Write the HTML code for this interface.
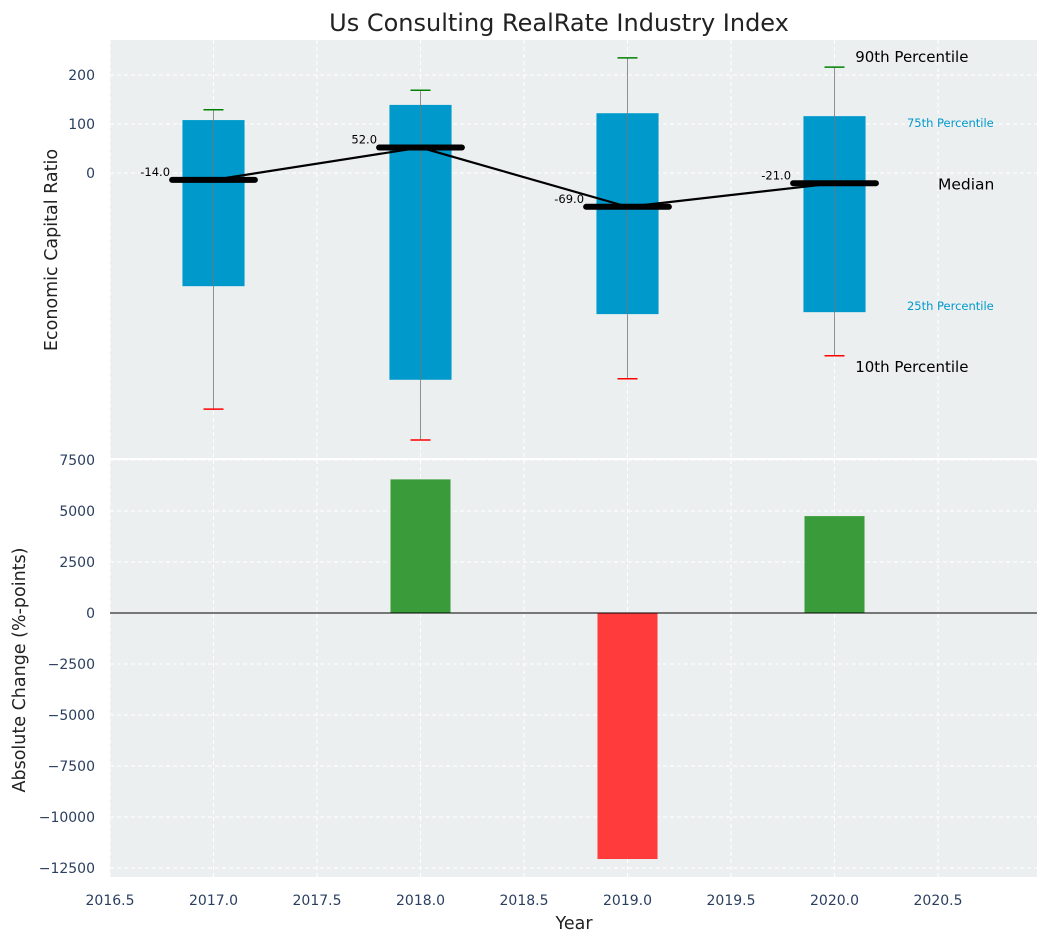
<!DOCTYPE html>
<html><head><meta charset="utf-8"><style>
body{margin:0;background:#fff;}
svg text{font-family:"DejaVu Sans","Liberation Sans",sans-serif;}
</style></head><body>
<svg id="chart" width="1048" height="942" xmlns="http://www.w3.org/2000/svg"></svg>
<script>
const years = [2017, 2018, 2019, 2020];
const p10 = [-482, -545, -420, -373];
const p25 = [-231, -422, -288, -284];
const medians = [-14, 52, -69, -21];
const p75 = [108, 139, 122, 116];
const p90 = [129, 169, 235, 216];
const changes = [0, 6550, -12060, 4750];
const xTicks = [2016.5, 2017.0, 2017.5, 2018.0, 2018.5, 2019.0, 2019.5, 2020.0, 2020.5];
const topTicks = [200, 100, 0];
const botTicks = [7500, 5000, 2500, 0, -2500, -5000, -7500, -10000, -12500];

const NS = "http://www.w3.org/2000/svg";
const svg = document.getElementById('chart');
function el(tag, attrs, parent){const e=document.createElementNS(NS,tag);for(const k in attrs)e.setAttribute(k,attrs[k]);(parent||svg).appendChild(e);return e;}
const fmt = v => String(v).replace('-','\u2212');
const L=110,R=1037;
const x = v => L + (v-2016.5)*207;
const yT = v => 173 - v*0.49;
const yB = v => 613 - v*0.0204;
const T1=40,B1=458,T2=460,B2=877;

let r=el('rect',{x:L,y:T1,width:R-L,height:B1-T1,fill:'#eceff0'});


r=el('rect',{x:L,y:T2,width:R-L,height:B2-T2,fill:'#eceff0'});



xTicks.forEach(t=>{
  [[T1,B1],[T2,B2]].forEach(([a,b])=>{const g=el('line',{x1:x(t),x2:x(t),y1:a,y2:b,stroke:'#fff','stroke-dasharray':'4,3','stroke-width':1});
  });
});
topTicks.forEach(t=>{const g=el('line',{x1:L,x2:R,y1:yT(t),y2:yT(t),stroke:'#fff','stroke-dasharray':'4,3'});
  
  const tx=el('text',{x:L-15,y:yT(t)+5,'text-anchor':'end','font-size':14,fill:'#2a3f5f'});tx.textContent=fmt(t);
  });
botTicks.forEach(t=>{const g=el('line',{x1:L,x2:R,y1:yB(t),y2:yB(t),stroke:'#fff','stroke-dasharray':'4,3'});
  
  const tx=el('text',{x:L-15,y:yB(t)+5,'text-anchor':'end','font-size':14,fill:'#2a3f5f'});tx.textContent=fmt(t);
  });
xTicks.forEach(t=>{const tx=el('text',{x:x(t),y:905,'text-anchor':'middle','font-size':14,fill:'#2a3f5f'});tx.textContent=t.toFixed(1);
  });

years.forEach((yr,i)=>{
  const b=el('rect',{x:x(yr-0.15),y:yT(p75[i]),width:0.3*207,height:yT(p25[i])-yT(p75[i]),fill:'#0099cc'});
  
  const w=el('line',{x1:x(yr),x2:x(yr),y1:yT(p90[i]),y2:yT(p10[i]),stroke:'#777','stroke-width':1,opacity:0.8});
  
  const c1=el('line',{x1:x(yr)-10,x2:x(yr)+10,y1:yT(p90[i]),y2:yT(p90[i]),stroke:'green','stroke-width':1.5});
  
  const c2=el('line',{x1:x(yr)-10,x2:x(yr)+10,y1:yT(p10[i]),y2:yT(p10[i]),stroke:'red','stroke-width':1.5});
  
  const m=el('line',{x1:x(yr-0.2),x2:x(yr+0.2),y1:yT(medians[i]),y2:yT(medians[i]),stroke:'#000','stroke-width':6,'stroke-linecap':'round'});
  
  const t=el('text',{x:x(yr-0.21),y:yT(medians[i])-4,'text-anchor':'end','font-size':11.5,fill:'#000'});t.textContent=medians[i].toFixed(1);
  
});
const pl=el('polyline',{points:years.map((yr,i)=>x(yr)+','+yT(medians[i])).join(' '),fill:'none',stroke:'#000','stroke-width':2.2});


const li=years.length-1, ly=years[li];
[['90th Percentile',x(ly+0.1),yT(p90[li])-5,15,'#000','start','p90-label'],
 ['75th Percentile',x(ly+0.35),yT(p75[li])+11,11.5,'#0099cc','start','p75-label'],
 ['Median',x(ly+0.5),yT(medians[li])+6,15.5,'#000','start','median-label'],
 ['25th Percentile',x(ly+0.35),yT(p25[li])-2,11.5,'#0099cc','start','p25-label'],
 ['10th Percentile',x(ly+0.1),yT(p10[li])+16,15,'#000','start','p10-label']].forEach(a=>{
  const t=el('text',{x:a[1],y:a[2],'font-size':a[3],fill:a[4],'text-anchor':a[5]});t.textContent=a[0];
  });

years.forEach((yr,i)=>{
  const v=changes[i]; if(v===0) return;
  const b=el('rect',{x:x(yr-0.145),y:Math.min(yB(v),yB(0)),width:0.29*207,height:Math.abs(yB(v)-yB(0)),fill:v>0?'#3a9b3a':'#ff3b3b'});
  
});
const z=el('line',{x1:L,x2:R,y1:yB(0),y2:yB(0),stroke:'#000','stroke-width':1});


let t=el('text',{x:559,y:31,'text-anchor':'middle','font-size':24,fill:'#222'});t.textContent='Us Consulting RealRate Industry Index';

t=el('text',{x:57,y:250,'text-anchor':'middle','font-size':17.5,fill:'#222',transform:'rotate(-90 57 250)'});t.textContent='Economic Capital Ratio';

t=el('text',{x:25,y:670,'text-anchor':'middle','font-size':17.5,fill:'#222',transform:'rotate(-90 25 670)'});t.textContent='Absolute Change (%-points)';

t=el('text',{x:574,y:929,'text-anchor':'middle','font-size':17.5,fill:'#222'});t.textContent='Year';

</script>
</body></html>
